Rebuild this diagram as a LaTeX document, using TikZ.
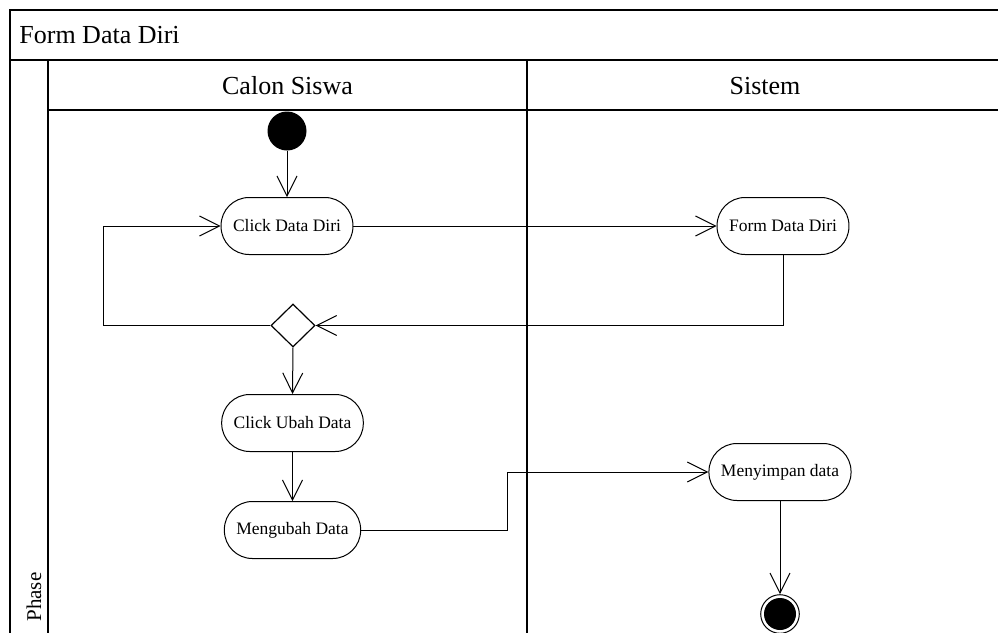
\documentclass[tikz,border=0pt]{standalone}
\usepackage{fontspec}
\setmainfont{Liberation Serif}
\usepackage{tikz}
\usetikzlibrary{calc}
\usetikzlibrary{positioning}
\usetikzlibrary{shapes.geometric}
\usetikzlibrary{arrows.meta}
\tikzset{
  lane_line/.style = {line width=0.6pt},
  head_text/.style = {inner sep=0pt, font=\fontsize{13}{15}\selectfont},
  act_node/.style = {rectangle, draw=black, line width=0.5pt, rounded corners=14pt,
    minimum height=28.5pt, inner xsep=6pt, inner ysep=0pt,
    font=\fontsize{8.75}{10}\selectfont},
  start_node/.style = {circle, fill=black, inner sep=0pt, minimum size=19.5pt},
  end_node/.style = {circle, draw=black, line width=0.5pt, inner sep=0pt,
    minimum size=19.3pt,
    path picture={\fill (path picture bounding box.center) circle (8pt);}},
  dec_node/.style = {diamond, draw=black, line width=0.6pt, inner sep=0pt,
    minimum width=22pt, minimum height=21.5pt},
  flow/.style = {->, line width=0.5pt}
}

\begin{document}
\begin{tikzpicture}[
    x=0.5pt, y=-0.5pt,
    >={Straight Barb[length=10pt, width=10pt, line width=0.5pt]}
    ]
  \useasboundingbox (0,0) rectangle (998,633);
  % swimlanes
  \draw [lane_line] (1003,10) -- (10,10) -- (10,640);
  \draw [lane_line] (10,60) -- (1003,60);
  \draw [lane_line] (48,110) -- (1003,110);
  \draw [lane_line] (48,60) -- (48,640);
  \draw [lane_line] (527,60) -- (527,640);
  \node (title) [head_text, anchor=base west] at (19,43) {Form Data Diri};
  \node (lane_siswa) [head_text] at (287.5,86) {Calon Siswa};
  \node (lane_sistem) [head_text] at (765,86) {Sistem};
  \node (phase) [inner sep=0pt, rotate=90, font=\fontsize{10.5}{12}\selectfont]
    at (34,597) {Phase};
  % activities
  \node (start) [start_node] at (287,131) {};
  \node (click_data) [act_node] at (287,226) {Click Data Diri};
  \node (form_data) [act_node] at (783,226) {Form Data Diri};
  \node (dec) [dec_node] at (293,325.5) {};
  \node (click_ubah) [act_node] at (292.5,423) {Click Ubah Data};
  \node (ubah_data) [act_node] at (292.5,530) {Mengubah Data};
  \node (simpan) [act_node] at (780,472) {Menyimpan data};
  \node (end) [end_node] at (780,614) {};
  \coordinate (loop_x) at (103,0);
  \coordinate (bend_x) at (507,0);
  % flows
  \draw [flow] (start) -- (click_data);
  \draw [flow] (click_data) -- (form_data);
  \draw [flow] (form_data.south) |- (dec.east);
  \draw [flow] (dec.west) -- (dec.west -| loop_x) |- (click_data.west);
  \draw [flow] (dec.south) -- (click_ubah.north);
  \draw [flow] (click_ubah) -- (ubah_data);
  \draw [flow] (ubah_data.east) -- (ubah_data.east -| bend_x) |- (simpan.west);
  \draw [flow] (simpan) -- (end);
\end{tikzpicture}
\end{document}
